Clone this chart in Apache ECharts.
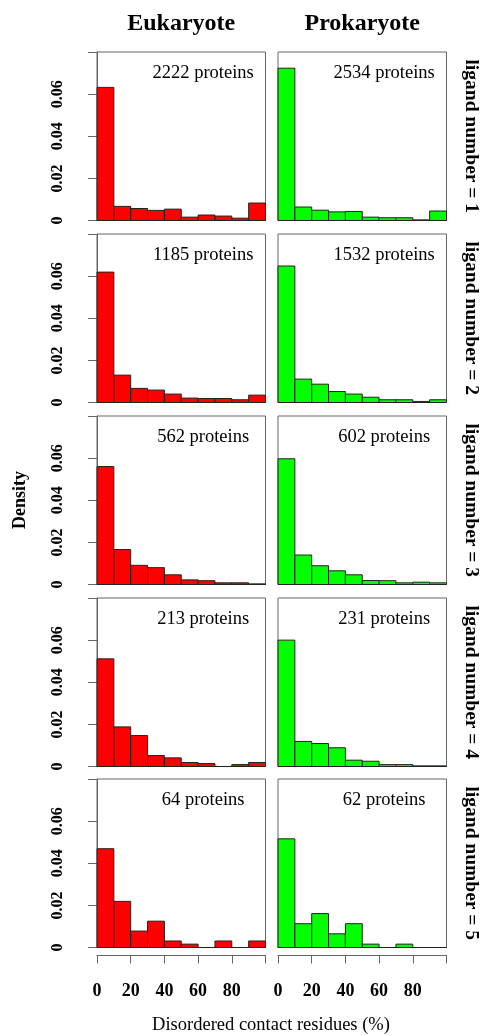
<!DOCTYPE html>
<html>
<head>
<meta charset="utf-8">
<script src="https://cdn.jsdelivr.net/npm/echarts@6/dist/echarts.min.js"></script>
<style>
html, body { margin: 0; padding: 0; background: #fff; }
#main { width: 485px; height: 1036px; }
</style>
</head>
<body>
<div id="main"></div>
<script>
// histogram bins (% disordered contact residues)
var binLeft = [0, 10, 20, 30, 40, 50, 60, 70, 80, 90];
var binRight = [10, 20, 30, 40, 50, 60, 70, 80, 90, 100];

var kingdoms = ['Eukaryote', 'Prokaryote'];
var ligandNumbers = [1, 2, 3, 4, 5];
var eukCounts = [2222, 1185, 562, 213, 64];
var proCounts = [2534, 1532, 602, 231, 62];

// density per bin
var euk1 = [0.0632, 0.0067, 0.0057, 0.0048, 0.0054, 0.0016, 0.0026, 0.0021, 0.0011, 0.0083];
var euk2 = [0.0619, 0.0130, 0.0067, 0.0059, 0.0040, 0.0021, 0.0019, 0.0019, 0.0013, 0.0035];
var euk3 = [0.0560, 0.0166, 0.0091, 0.0080, 0.0046, 0.0022, 0.0018, 0.0008, 0.0008, 0.0003];
var euk4 = [0.0511, 0.0188, 0.0147, 0.0052, 0.0041, 0.0019, 0.0014, 0.0000, 0.0009, 0.0019];
var euk5 = [0.0469, 0.0219, 0.0078, 0.0125, 0.0031, 0.0016, 0.0000, 0.0031, 0.0000, 0.0031];

var pro1 = [0.0723, 0.0064, 0.0049, 0.0041, 0.0043, 0.0016, 0.0013, 0.0013, 0.0003, 0.0045];
var pro2 = [0.0648, 0.0111, 0.0087, 0.0052, 0.0040, 0.0025, 0.0013, 0.0013, 0.0005, 0.0013];
var pro3 = [0.0597, 0.0140, 0.0089, 0.0065, 0.0046, 0.0019, 0.0018, 0.0008, 0.0011, 0.0008];
var pro4 = [0.0600, 0.0119, 0.0109, 0.0089, 0.0030, 0.0025, 0.0009, 0.0009, 0.0003, 0.0003];
var pro5 = [0.0516, 0.0113, 0.0161, 0.0065, 0.0113, 0.0016, 0.0000, 0.0016, 0.0000, 0.0000];

var eukData = [euk1, euk2, euk3, euk4, euk5];
var proData = [pro1, pro2, pro3, pro4, pro5];

var chart = echarts.init(document.getElementById('main'));

var serif = '"Liberation Serif", "DejaVu Serif", serif';
var colLeft = [97, 278];
var panelW = 168.5;
var rowTop = [52, 234, 416, 598, 779];
var panelH = 168.5;
var frameColor = '#666';

var grid = [], xAxis = [], yAxis = [], series = [], graphic = [];

function barRenderer(fillColor) {
  return function (params, api) {
    var p0 = api.coord([api.value(0), api.value(2)]);
    var p1 = api.coord([api.value(1), 0]);
    return {
      type: 'rect',
      shape: { x: p0[0], y: p0[1], width: p1[0] - p0[0], height: p1[1] - p0[1] },
      style: { fill: fillColor, stroke: '#222', lineWidth: 1 }
    };
  };
}

for (var r = 0; r < 5; r++) {
  for (var c = 0; c < 2; c++) {
    var idx = grid.length;
    grid.push({
      left: colLeft[c], top: rowTop[r], width: panelW, height: panelH,
      show: true, borderColor: frameColor, borderWidth: 1, backgroundColor: 'transparent'
    });

    var showX = (r === 4);
    xAxis.push({
      gridIndex: idx, type: 'value', min: 0, max: 100, interval: 20,
      show: showX, position: 'bottom', offset: 8,
      axisLine: { show: true, onZero: false, lineStyle: { color: frameColor } },
      axisTick: { show: true, length: 8, lineStyle: { color: frameColor } },
      splitLine: { show: false },
      axisLabel: {
        margin: 27, color: '#000', fontFamily: serif, fontWeight: 'bold', fontSize: 18,
        formatter: function (v) { return v >= 100 ? '' : String(v); }
      }
    });

    var showY = (c === 0);
    yAxis.push({
      gridIndex: idx, type: 'value', min: 0, max: 0.08, interval: 0.02,
      show: showY, offset: 7,
      axisLine: { show: true, lineStyle: { color: frameColor } },
      axisTick: { show: true, length: 9, lineStyle: { color: frameColor } },
      splitLine: { show: false },
      axisLabel: {
        rotate: 90, margin: 24, color: '#000', fontFamily: serif, fontWeight: 'bold', fontSize: 16,
        formatter: function (v) {
          if (v > 0.079) return '';
          if (v === 0) return '0';
          return v.toFixed(2);
        }
      }
    });

    var vals = (c === 0 ? eukData : proData)[r];
    var data = [];
    for (var i = 0; i < vals.length; i++) data.push([binLeft[i], binRight[i], vals[i]]);
    series.push({
      type: 'custom', xAxisIndex: idx, yAxisIndex: idx,
      renderItem: barRenderer(c === 0 ? '#ff0000' : '#00ff00'),
      encode: { x: [0, 1], y: 2 },
      data: data, silent: true
    });

    // protein count label
    var count = (c === 0 ? eukCounts : proCounts)[r];
    graphic.push({
      type: 'text', x: colLeft[c] + panelW * 0.63, y: rowTop[r] + 21,
      style: {
        text: count + ' proteins', fill: '#000', font: '18.5px ' + serif,
        align: 'center', verticalAlign: 'middle'
      }
    });
  }

  graphic.push({
    type: 'text', x: 471, y: rowTop[r] + panelH / 2, rotation: -Math.PI / 2,
    style: {
      text: 'ligand number = ' + ligandNumbers[r], fill: '#000', font: 'bold 19.5px ' + serif,
      align: 'center', verticalAlign: 'middle'
    }
  });
}

for (var k = 0; k < 2; k++) {
  graphic.push({
    type: 'text', x: colLeft[k] + panelW / 2, y: 24,
    style: {
      text: kingdoms[k], fill: '#000', font: 'bold 24px ' + serif,
      align: 'center', verticalAlign: 'middle'
    }
  });
}

graphic.push({
  type: 'text', x: 20, y: 500, rotation: Math.PI / 2,
  style: { text: 'Density', fill: '#000', font: 'bold 18px ' + serif, align: 'center', verticalAlign: 'middle' }
});
graphic.push({
  type: 'text', x: 271, y: 1025,
  style: {
    text: 'Disordered contact residues (%)', fill: '#000', font: '18.5px ' + serif,
    align: 'center', verticalAlign: 'middle'
  }
});

chart.setOption({
  animation: false,
  backgroundColor: '#fff',
  grid: grid,
  xAxis: xAxis,
  yAxis: yAxis,
  series: series,
  graphic: graphic
});
</script>
</body>
</html>
